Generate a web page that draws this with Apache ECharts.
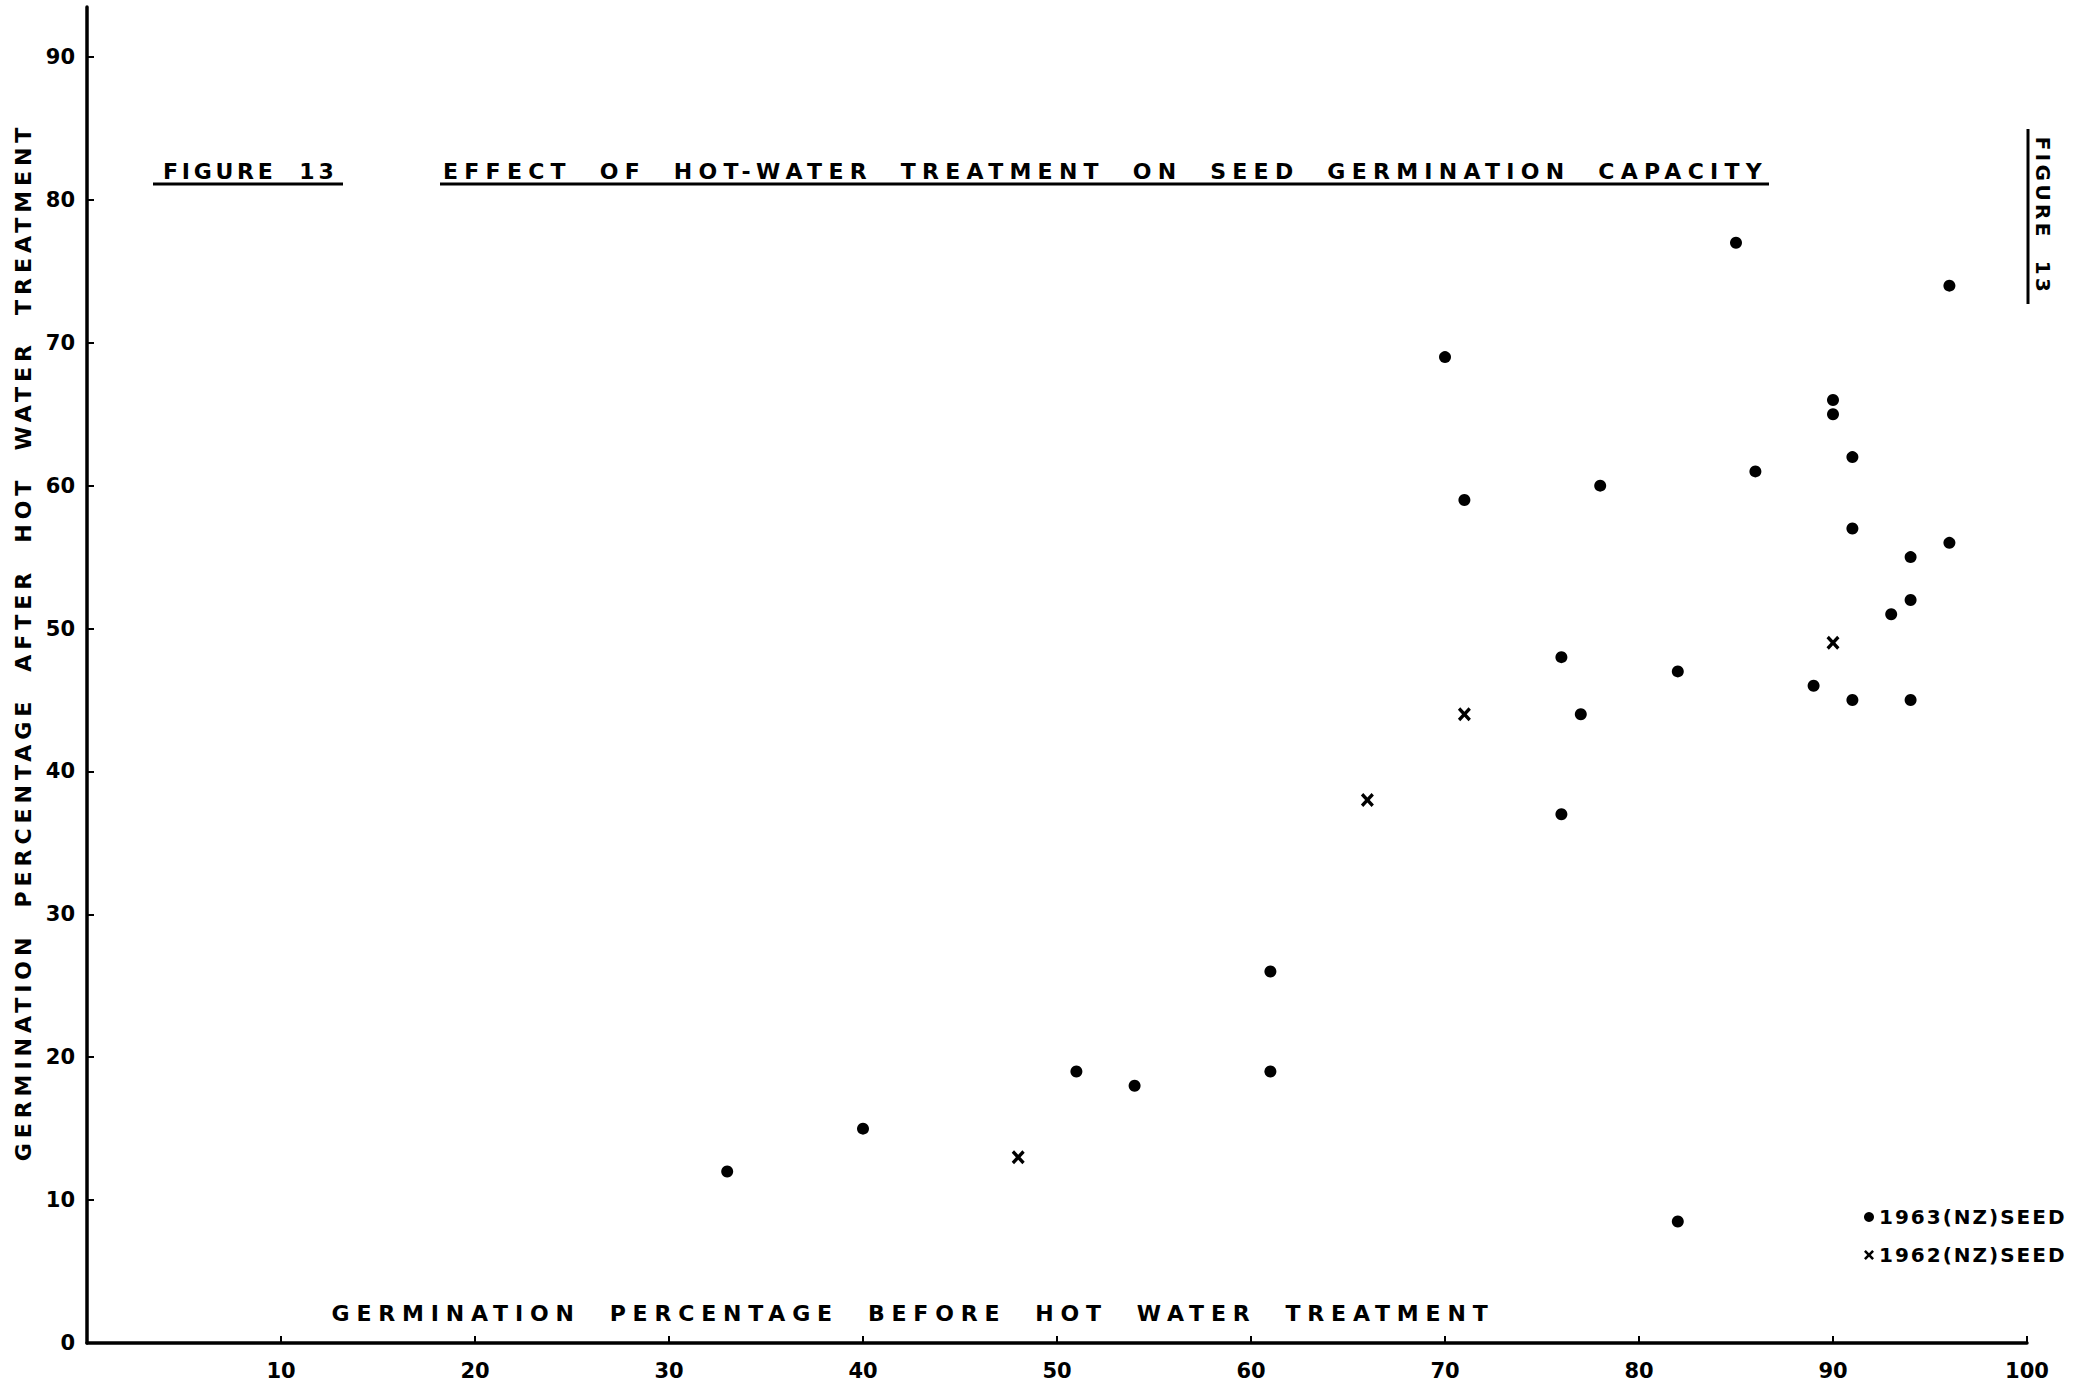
<!DOCTYPE html>
<html>
<head>
<meta charset="utf-8">
<title>Effect of hot-water treatment on seed germination capacity</title>
<script src="https://cdn.jsdelivr.net/npm/echarts@6/dist/echarts.min.js"></script>
<style>
  html, body { margin: 0; padding: 0; background: #ffffff; }
  #chart { width: 2092px; height: 1392px; }
  #chart text { white-space: pre; }
</style>
</head>
<body>
<div id="chart"></div>
<script>
// Germination % before treatment (x) vs after hot-water treatment (y)
const seed1963 = [
  [33, 12], [40, 15], [51, 19], [54, 18], [61, 26], [61, 19],
  [70, 69], [71, 59], [76, 48], [76, 37], [77, 44], [78, 60],
  [82, 47], [82, 8.5], [85, 77], [86, 61], [89, 46], [90, 66],
  [90, 65], [91, 62], [91, 57], [91, 45], [93, 51], [94, 55],
  [94, 52], [94, 45], [96, 74], [96, 56]
];
const seed1962 = [
  [48, 13], [66, 38], [71, 44], [90, 49]
];
const seriesNames = ['1963(NZ)SEED', '1962(NZ)SEED'];
const xTickValues = [10, 20, 30, 40, 50, 60, 70, 80, 90, 100];
const yTickValues = [0, 10, 20, 30, 40, 50, 60, 70, 80, 90];

const xAxisTitle = 'GERMINATION  PERCENTAGE  BEFORE  HOT  WATER  TREATMENT';
const yAxisTitle = 'GERMINATION  PERCENTAGE  AFTER  HOT  WATER  TREATMENT';
const figureLabel = 'FIGURE  13';
const chartTitle = 'EFFECT  OF  HOT-WATER  TREATMENT  ON  SEED  GERMINATION  CAPACITY';

const FONT = '"DejaVu Sans", "Liberation Sans", sans-serif';
const INK = '#000000';
const crossPath = 'path://M0,1.8 L1.8,0 L5,3.2 L8.2,0 L10,1.8 L6.8,5 L10,8.2 L8.2,10 L5,6.8 L1.8,10 L0,8.2 L3.2,5 Z';

// Lettering tracking (em) for each kind of drawn text
const tracking = {};
tracking[xAxisTitle] = 0.31;
tracking[yAxisTitle] = 0.225;
tracking[chartTitle] = 0.285;
tracking[figureLabel] = 0.17;

const chart = echarts.init(document.getElementById('chart'), null, { renderer: 'svg' });

const option = {
  backgroundColor: '#ffffff',
  animation: false,
  textStyle: { fontFamily: FONT, color: INK, fontWeight: 'bold' },
  grid: { left: 87, right: 65, top: 7, bottom: 49, outerBoundsMode: 'none' },
  xAxis: {
    type: 'value',
    min: 0,
    max: 100,
    interval: 10,
    splitLine: { show: false },
    axisLine: { show: true, lineStyle: { color: INK, width: 3.5 } },
    axisTick: { show: true, inside: true, length: 7, lineStyle: { color: INK, width: 2 }, customValues: xTickValues },
    axisLabel: { color: INK, fontFamily: FONT, fontWeight: 'bold', fontSize: 21, margin: 17, customValues: xTickValues },
    name: xAxisTitle,
    nameLocation: 'middle',
    nameGap: -41,
    nameTextStyle: { color: INK, fontFamily: FONT, fontWeight: 'bold', fontSize: 22, padding: [0, 288, 0, 0] }
  },
  yAxis: {
    type: 'value',
    min: 0,
    max: 93.5,
    splitLine: { show: false },
    axisLine: { show: true, lineStyle: { color: INK, width: 3.5 } },
    axisTick: { show: true, inside: true, length: 7, lineStyle: { color: INK, width: 2 }, customValues: yTickValues },
    axisLabel: { color: INK, fontFamily: FONT, fontWeight: 'bold', fontSize: 21, margin: 12, customValues: yTickValues },
    name: yAxisTitle,
    nameLocation: 'middle',
    nameRotate: 90,
    nameGap: 51,
    nameTextStyle: { color: INK, fontFamily: FONT, fontWeight: 'bold', fontSize: 22, padding: [0, 0, 0, 66] }
  },
  legend: {
    orient: 'vertical',
    left: 1864,
    top: 1207,
    itemWidth: 10,
    itemHeight: 10,
    itemGap: 18,
    padding: 0,
    textStyle: { color: INK, fontFamily: FONT, fontWeight: 'bold', fontSize: 20 },
    data: [
      { name: seriesNames[0], icon: 'circle' },
      { name: seriesNames[1], icon: crossPath }
    ]
  },
  graphic: [
    { type: 'text', x: 163, y: 171, style: { text: figureLabel, font: 'bold 22px ' + FONT, fill: INK, align: 'left', verticalAlign: 'middle' } },
    { type: 'line', shape: { x1: 153, y1: 184, x2: 343, y2: 184 }, style: { stroke: INK, lineWidth: 3 } },
    { type: 'text', x: 443, y: 171, style: { text: chartTitle, font: 'bold 22px ' + FONT, fill: INK, align: 'left', verticalAlign: 'middle' } },
    { type: 'line', shape: { x1: 440, y1: 184, x2: 1769, y2: 184 }, style: { stroke: INK, lineWidth: 3 } },
    { type: 'text', x: 2043, y: 216, rotation: -Math.PI / 2, style: { text: figureLabel, font: 'bold 20px ' + FONT, fill: INK, align: 'center', verticalAlign: 'middle' } },
    { type: 'line', shape: { x1: 2028, y1: 129, x2: 2028, y2: 304 }, style: { stroke: INK, lineWidth: 3 } }
  ],
  series: [
    {
      name: seriesNames[0],
      type: 'scatter',
      data: seed1963,
      symbol: 'circle',
      symbolSize: 12,
      itemStyle: { color: INK, opacity: 1 }
    },
    {
      name: seriesNames[1],
      type: 'scatter',
      data: seed1962,
      symbol: crossPath,
      symbolSize: [13, 14],
      itemStyle: { color: INK, opacity: 1 }
    }
  ]
};

chart.setOption(option);

// Stencil-style lettering: widen the tracking of the drawn text
function trackLetters() {
  document.querySelectorAll('#chart text').forEach(function (t) {
    const s = t.textContent || '';
    let em = 0;
    if (tracking[s] !== undefined) em = tracking[s];
    else if (s.indexOf('(NZ)') >= 0) em = 0.1;
    t.style.letterSpacing = em + 'em';
  });
}
chart.on('finished', trackLetters);
trackLetters();
</script>
</body>
</html>
